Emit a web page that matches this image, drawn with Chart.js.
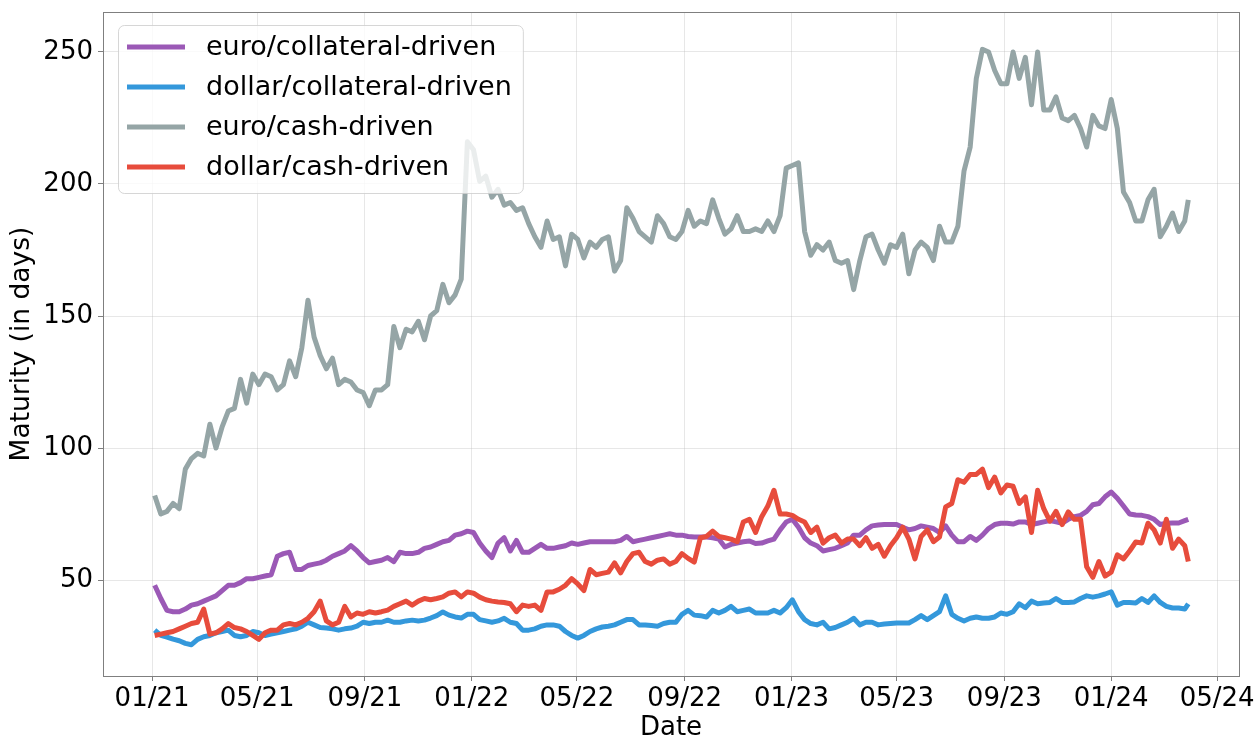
<!DOCTYPE html>
<html>
<head>
<meta charset="utf-8">
<script src="https://cdn.jsdelivr.net/npm/chart.js@4.4.1/dist/chart.umd.min.js"></script>
<style>
html,body{margin:0;padding:0;background:#ffffff;}
#wrap{width:1258px;height:738px;position:relative;}
</style>
</head>
<body>
<div id="wrap"><canvas id="c" width="1258" height="738"></canvas></div>
<script>
const dates = [
'2021-01-04','2021-01-11','2021-01-18','2021-01-25','2021-02-01','2021-02-08','2021-02-15','2021-02-22','2021-03-01','2021-03-08',
'2021-03-15','2021-03-22','2021-03-29','2021-04-05','2021-04-12','2021-04-19','2021-04-26','2021-05-03','2021-05-10','2021-05-17',
'2021-05-24','2021-05-31','2021-06-07','2021-06-14','2021-06-21','2021-06-28','2021-07-05','2021-07-12','2021-07-19','2021-07-26',
'2021-08-02','2021-08-09','2021-08-16','2021-08-23','2021-08-30','2021-09-06','2021-09-13','2021-09-20','2021-09-27','2021-10-04',
'2021-10-11','2021-10-18','2021-10-25','2021-11-01','2021-11-08','2021-11-15','2021-11-22','2021-11-29','2021-12-06','2021-12-13',
'2021-12-20','2021-12-27','2022-01-03','2022-01-10','2022-01-17','2022-01-24','2022-01-31','2022-02-07','2022-02-14','2022-02-21',
'2022-02-28','2022-03-07','2022-03-14','2022-03-21','2022-03-28','2022-04-04','2022-04-11','2022-04-18','2022-04-25','2022-05-02',
'2022-05-09','2022-05-16','2022-05-23','2022-05-30','2022-06-06','2022-06-13','2022-06-20','2022-06-27','2022-07-04','2022-07-11',
'2022-07-18','2022-07-25','2022-08-01','2022-08-08','2022-08-15','2022-08-22','2022-08-29','2022-09-05','2022-09-12','2022-09-19',
'2022-09-26','2022-10-03','2022-10-10','2022-10-17','2022-10-24','2022-10-31','2022-11-07','2022-11-14','2022-11-21','2022-11-28',
'2022-12-05','2022-12-12','2022-12-19','2022-12-26','2023-01-02','2023-01-09','2023-01-16','2023-01-23','2023-01-30','2023-02-06',
'2023-02-13','2023-02-20','2023-02-27','2023-03-06','2023-03-13','2023-03-20','2023-03-27','2023-04-03','2023-04-10','2023-04-17',
'2023-04-24','2023-05-01','2023-05-08','2023-05-15','2023-05-22','2023-05-29','2023-06-05','2023-06-12','2023-06-19','2023-06-26',
'2023-07-03','2023-07-10','2023-07-17','2023-07-24','2023-07-31','2023-08-07','2023-08-14','2023-08-21','2023-08-28','2023-09-04',
'2023-09-11','2023-09-18','2023-09-25','2023-10-02','2023-10-09','2023-10-16','2023-10-23','2023-10-30','2023-11-06','2023-11-13',
'2023-11-20','2023-11-27','2023-12-04','2023-12-11','2023-12-18','2023-12-25','2024-01-01','2024-01-08','2024-01-15','2024-01-22',
'2024-01-29','2024-02-05','2024-02-12','2024-02-19','2024-02-26','2024-03-04','2024-03-11','2024-03-18','2024-03-25','2024-03-29'
];

const seriesNames = ['euro/collateral-driven', 'dollar/collateral-driven', 'euro/cash-driven', 'dollar/cash-driven'];

const euroCollateral = [
48, 43, 38.5, 38, 38, 39, 40.5, 41, 42, 43,
44, 46, 48, 48, 49, 50.5, 50.5, 51, 51.5, 52,
59, 60, 60.5, 54, 54, 55.5, 56, 56.5, 57.5, 59,
60, 61, 63, 61, 58.5, 56.5, 57, 57.5, 58.5, 57,
60.5, 60, 60, 60.5, 62, 62.5, 63.5, 64.5, 65, 67,
67.5, 68.5, 68, 64, 61, 58.5, 64, 66, 61, 65,
60.5, 60.5, 62, 63.5, 62, 62, 62.5, 63, 64, 63.5,
64, 64.5, 64.5, 64.5, 64.5, 64.5, 65, 66.5, 64.5, 65,
65.5, 66, 66.5, 67, 67.5, 67, 67, 66.5, 66.3, 66.3,
66.3, 66, 65.5, 62.5, 63.5, 64, 64.5, 64.8, 63.8, 64,
64.8, 65.5, 69, 72, 73, 70, 66, 64, 63, 61,
61.5, 62, 63, 64, 67, 67, 69, 70.5, 70.8, 71,
71, 71, 70, 69, 69.5, 70.5, 70, 69.5, 68, 70.5,
67, 64.5, 64.5, 66.5, 65, 67, 69.5, 71, 71.5, 71.5,
71.2, 72, 72, 71, 71.5, 72, 72.5, 72, 71.5, 73,
74, 74.5, 76, 78.5, 79, 81.5, 83.3, 81, 78, 75,
74.6, 74.5, 74, 73, 71, 71.5, 71.6, 71.6, 72.5, 73
];

const dollarCollateral = [
31, 29, 28.4, 27.6, 27, 26, 25.5, 27.5, 28.5, 29,
30, 30.5, 31, 29, 28.5, 29, 30.5, 30, 29, 29.5,
30, 30.5, 31, 31.5, 32.5, 34, 33, 32, 31.8, 31.5,
31, 31.5, 31.8, 32.5, 34, 33.5, 34, 34, 34.8, 34,
34, 34.5, 34.8, 34.5, 34.8, 35.6, 36.5, 37.9, 36.7, 36,
35.6, 37, 37, 35, 34.5, 34, 34.5, 35.5, 34, 33.5,
31, 31, 31.5, 32.5, 33, 33, 32.5, 30.5, 29, 28,
29, 30.5, 31.5, 32.2, 32.5, 33, 34, 35, 35, 33,
33, 32.8, 32.5, 33.5, 34, 34, 37, 38.5, 36.7, 36.5,
36, 38.5, 37.5, 38.5, 40, 38, 38.5, 39, 37.5, 37.5,
37.5, 38.5, 37.5, 39.5, 42.5, 38, 35, 33.5, 33, 34,
31.5, 32, 33, 34, 35.5, 33, 34, 34, 33, 33.3,
33.5, 33.7, 33.7, 33.7, 35, 36.5, 35, 36.5, 38, 44,
37, 35.5, 34.5, 35.5, 36, 35.5, 35.5, 36, 37.5, 37,
38, 41, 39.5, 42, 41, 41.3, 41.5, 43, 41.5, 41.5,
41.7, 43, 44, 43.5, 44, 44.7, 45.5, 40.5, 41.5, 41.5,
41.3, 43, 41.5, 44, 41.5, 40, 39.4, 39.4, 39, 41
];

const euroCash = [
82, 75, 76, 79, 77, 92, 96, 98, 97, 109,
100, 108, 114, 115, 126, 117, 128, 124, 128, 127,
122, 124, 133, 127, 138, 156, 142, 135, 130, 134,
124, 126, 125, 122, 121, 116, 122, 122, 124, 146,
138, 145, 144, 148, 141, 150, 152, 162, 155, 158,
164, 216, 213, 201, 203, 195, 198, 192, 193, 190,
191, 185, 180, 176, 186, 179, 180, 169, 181, 179,
172, 178, 176, 179, 180, 167, 171, 191, 187, 182,
180, 178, 188, 185, 180, 179, 182, 190, 184, 186,
185, 194, 187, 181, 183, 188, 182, 182, 183, 182,
186, 182, 188, 206, 207, 208, 182, 173, 177, 175,
178, 171, 170, 171, 160, 171, 180, 181, 175, 170,
177, 176, 181, 166, 175, 178, 176, 171, 184, 178,
178, 184, 205, 214, 240, 251, 250, 243, 238, 238,
250, 240, 248, 230, 250, 228, 228, 233, 225, 224,
226, 221, 214, 226, 222, 221, 232, 221, 197, 193,
186, 186, 194, 198, 180, 184, 189, 182, 186, 194
];

const dollarCash = [
29, 29.5, 30, 30.5, 31.5, 32.5, 33.5, 34, 39, 29.5,
30, 31.5, 33.5, 32, 31.5, 30.5, 29, 27.5, 30, 31,
31, 33, 33.5, 33, 34, 35.5, 38, 42, 34.5, 33,
34, 40, 36, 37.5, 37, 38, 37.5, 38, 38.6, 40,
41, 42, 40.5, 42, 43, 42.5, 43, 43.6, 45, 45.5,
43.6, 45.5, 45, 43.5, 42.5, 42, 41.7, 41.5, 41, 38,
40.5, 40, 40.5, 38.5, 45.5, 45.5, 46.5, 48, 50.5, 48.5,
46, 54, 52, 52.5, 53, 56.5, 52.7, 57, 60, 60.5,
57, 56, 57.5, 58, 56, 57, 60, 58.2, 56.8, 66,
66.5, 68.5, 66.5, 66, 65.5, 64.5, 72, 73, 68, 74,
78, 84, 75, 75, 74.5, 73, 72, 68, 70, 64,
66, 67, 64, 65.5, 65.5, 63, 66, 62, 63.5, 59,
63, 66, 70, 65.5, 58, 66.5, 69, 64.5, 66.3, 77.7,
79, 88, 87, 90, 90, 92, 85, 89, 83, 86,
85.5, 79, 81.5, 68, 84, 77, 72.3, 76, 71, 75.8,
73, 73, 55, 51, 57, 51.5, 53, 59.5, 58, 61,
64.4, 64, 71.5, 69, 64, 73, 62, 65.5, 63, 57
];

const tickLabels = ['01/21','05/21','09/21','01/22','05/22','09/22','01/23','05/23','09/23','01/24','05/24'];
const yTickValues = [50, 100, 150, 200, 250];

const colors = ['#9b59b6', '#3498db', '#95a5a6', '#e74c3c'];
const FONT = "'DejaVu Sans', sans-serif";

const DAY0 = Date.UTC(2021, 0, 1);
function dayOf(s) {
  const p = s.split('-').map(Number);
  return (Date.UTC(p[0], p[1] - 1, p[2]) - DAY0) / 86400000;
}
const tickDays = tickLabels.map(l => dayOf('20' + l.slice(3) + '-' + l.slice(0, 2) + '-01'));
const toPoints = arr => arr.map((v, i) => ({x: dayOf(dates[i]), y: v}));

const seriesValues = [euroCollateral, dollarCollateral, euroCash, dollarCash];
const drawOrder = [4, 3, 2, 1];

const datasets = seriesValues.map((vals, i) => ({
  label: seriesNames[i],
  data: toPoints(vals),
  borderColor: colors[i],
  backgroundColor: colors[i],
  borderWidth: 5,
  pointRadius: 0,
  pointHoverRadius: 0,
  tension: 0,
  fill: false,
  borderJoinStyle: 'round',
  borderCapStyle: 'butt',
  order: drawOrder[i]
}));

const overlay = {
  id: 'overlay',
  afterDatasetsDraw(chart) {
    const ctx = chart.ctx;
    const a = chart.chartArea;
    ctx.save();
    ctx.font = '27px ' + FONT;
    const bx = a.left + 15, by = a.top + 13;
    const textOff = 88;
    const maxW = Math.max(...seriesNames.map(n => ctx.measureText(n).width));
    const bw = textOff + maxW + 11, bh = 168;
    ctx.beginPath();
    ctx.roundRect(bx + 0.5, by + 0.5, bw, bh, 6);
    ctx.fillStyle = 'rgba(255,255,255,0.8)';
    ctx.fill();
    ctx.strokeStyle = 'rgba(204,204,204,0.8)';
    ctx.lineWidth = 1;
    ctx.stroke();
    seriesNames.forEach((n, i) => {
      const y = by + 22 + 40 * i;
      ctx.beginPath();
      ctx.moveTo(bx + 9, y);
      ctx.lineTo(bx + 67, y);
      ctx.strokeStyle = colors[i];
      ctx.lineWidth = 5;
      ctx.lineCap = 'butt';
      ctx.stroke();
      ctx.fillStyle = '#000000';
      ctx.textBaseline = 'middle';
      ctx.textAlign = 'left';
      ctx.fillText(n, bx + textOff, y + 1);
    });
    ctx.restore();
  },
  afterDraw(chart) {
    const ctx = chart.ctx;
    const a = chart.chartArea;
    ctx.save();
    ctx.strokeStyle = '#7f7f7f';
    ctx.lineWidth = 1;
    ctx.strokeRect(Math.round(a.left) + 0.5, Math.round(a.top) + 0.5,
                   Math.round(a.right - a.left), Math.round(a.bottom - a.top));
    ctx.restore();
  }
};

const gridColor = 'rgba(176,176,176,0.3)';

new Chart(document.getElementById('c'), {
  type: 'line',
  data: {datasets},
  options: {
    responsive: false,
    animation: false,
    devicePixelRatio: 1,
    events: [],
    layout: {padding: {top: 12, right: 18, bottom: 0, left: 0}},
    plugins: {legend: {display: false}, tooltip: {enabled: false}},
    scales: {
      x: {
        type: 'linear',
        min: -56,
        max: 1241,
        afterBuildTicks: s => { s.ticks = tickDays.map(v => ({value: v})); },
        afterFit: s => { s.height = 62; },
        ticks: {
          autoSkip: false,
          maxRotation: 0,
          padding: 3,
          color: '#000000',
          font: {family: FONT, size: 26},
          callback: v => { const i = tickDays.indexOf(v); return i >= 0 ? tickLabels[i] : ''; }
        },
        grid: {color: gridColor, lineWidth: 1, drawTicks: true, tickLength: 5, tickColor: '#7f7f7f'},
        border: {display: false},
        title: {display: true, text: 'Date', color: '#000000', font: {family: FONT, size: 26, lineHeight: 0.77}, padding: 0}
      },
      y: {
        type: 'linear',
        min: 13.64,
        max: 265.15,
        afterBuildTicks: s => { s.ticks = yTickValues.map(v => ({value: v})); },
        afterFit: s => { s.width = 103; s.paddingTop = 0; s.paddingBottom = 0; },
        ticks: {
          padding: 5,
          color: '#000000',
          font: {family: FONT, size: 26, lineHeight: 0.4}
        },
        grid: {color: gridColor, lineWidth: 1, drawTicks: true, tickLength: 5, tickColor: '#7f7f7f'},
        border: {display: false},
        title: {display: true, text: 'Maturity (in days)', color: '#000000', font: {family: FONT, size: 26.5, lineHeight: 0.77}, padding: {top: 12, bottom: 0}}
      }
    }
  },
  plugins: [overlay]
});
</script>
</body>
</html>
